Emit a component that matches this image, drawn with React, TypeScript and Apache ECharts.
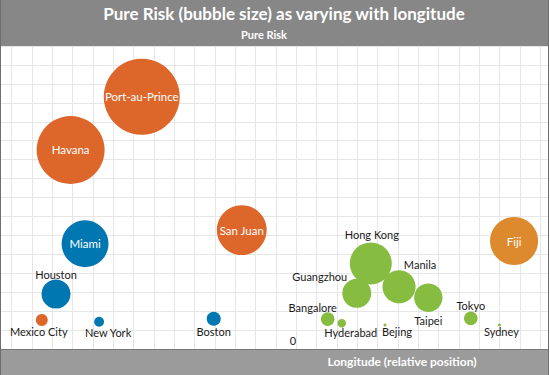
import React, { useEffect, useRef } from "react";
import * as echarts from "echarts";

// ---- data ----
const cities = [
  "Port-au-Prince", "Havana", "San Juan", "Mexico City",
  "Miami", "Houston", "New York", "Boston",
  "Hong Kong", "Guangzhou", "Manila", "Taipei", "Bangalore", "Hyderabad", "Bejing", "Tokyo", "Sydney",
  "Fiji",
];
const longitude = [6.4, 2.9, 11.32, 1.48, 3.61, 2.18, 4.3, 9.94, 17.67, 16.98, 19.06, 20.5, 15.55, 16.24, 18.37, 22.59, 24.0, 24.72];
const position = [13.32, 10.51, 6.28, 1.53, 5.56, 2.9, 1.44, 1.6, 4.52, 2.94, 3.29, 2.71, 1.58, 1.36, 1.27, 1.62, 1.27, 5.7];
const pureRisk = [100, 80, 43, 2.5, 38, 14.6, 1.7, 3.4, 30.5, 14.6, 18.9, 14, 3.2, 1.25, 0.16, 3.2, 0.16, 40];
const region = [
  "Caribbean", "Caribbean", "Caribbean", "Caribbean",
  "USA", "USA", "USA", "USA",
  "Asia", "Asia", "Asia", "Asia", "Asia", "Asia", "Asia", "Asia", "Asia",
  "Pacific",
];
const regions = ["Caribbean", "USA", "Asia", "Pacific"];

// ---- styling ----
const regionColor: Record<string, string> = {
  Caribbean: "#DD672B",
  USA: "#0077B1",
  Asia: "#86BC40",
  Pacific: "#DD8A2E",
};
const insideLabel = new Set(["Port-au-Prince", "Havana", "San Juan", "Miami", "Fiji"]);
const labelOffset: Record<string, [number, number]> = {
  Houston: [0, -20],
  "Mexico City": [-3, 11],
  "New York": [9, 11],
  Boston: [0, 13],
  "Hong Kong": [1, -29],
  Guangzhou: [-37, -17],
  Manila: [21, -22],
  Taipei: [0, 23],
  Bangalore: [-15, -12],
  Hyderabad: [9, 9],
  Bejing: [12, 7],
  Tokyo: [0, -13],
  Sydney: [2, 7],
};
const FONT = "Lato";
const MAX_SIZE = 76;

export default function App() {
  const ref = useRef<HTMLDivElement>(null);
  useEffect(() => {
    document.body.style.margin = "0";
    if (!ref.current) return;
    const chart = echarts.init(ref.current, undefined, { renderer: "svg" });
    const series = regions.map((r) => ({
      type: "scatter",
      name: r,
      xAxisIndex: 0,
      yAxisIndex: 0,
      symbolSize: (v: number[]) => MAX_SIZE * Math.sqrt(v[2] / 100),
      itemStyle: { color: regionColor[r], opacity: 1 },
      data: cities
        .map((c, i) => ({ c, i }))
        .filter(({ i }) => region[i] === r)
        .map(({ c, i }) => ({
          name: c,
          value: [longitude[i], position[i], pureRisk[i]],
          label: insideLabel.has(c)
            ? { show: true, position: "inside", formatter: "{b}", color: "#fff", fontSize: 11.5, fontFamily: FONT }
            : {
                show: true,
                position: "inside",
                offset: labelOffset[c] || [0, 0],
                formatter: "{b}",
                color: "#1a1a1a",
                fontSize: 11,
                fontFamily: FONT,
              },
        })),
    }));
    const hidden = { axisLine: { show: false }, axisTick: { show: false }, axisLabel: { show: false } };
    chart.setOption({
      animation: false,
      backgroundColor: "#fff",
      grid: [
        { left: 11.7, right: 2, top: 46, bottom: 26, containLabel: false },
        { left: 0, right: 2, top: 46, bottom: 26, containLabel: false },
      ],
      xAxis: [
        {
          type: "value", gridIndex: 0, min: 0, max: 26.39, interval: 1, ...hidden,
          splitLine: { show: true, showMaxLine: false, lineStyle: { color: "#E6E6E6", width: 1 } },
        },
        { type: "value", gridIndex: 1, min: 0, max: 1, ...hidden, splitLine: { show: false } },
      ],
      yAxis: [
        { type: "value", gridIndex: 0, min: 0, max: 16, interval: 1, ...hidden, splitLine: { show: false } },
        {
          type: "value", gridIndex: 1, min: 0, max: 16, interval: 1, ...hidden,
          splitLine: { show: true, lineStyle: { color: "#E6E6E6", width: 1 } },
        },
      ],
      series,
      graphic: [
        { type: "rect", z: 100, shape: { x: 0, y: 0, width: 549, height: 46 }, style: { fill: "#878787" } },
        { type: "rect", z: 100, shape: { x: 0, y: 349, width: 549, height: 26 }, style: { fill: "#9B9B9B" } },
        { type: "line", z: 101, shape: { x1: 0, y1: 349.5, x2: 549, y2: 349.5 }, style: { stroke: "#777", lineWidth: 1 } },
        { type: "line", z: 101, shape: { x1: 0.5, y1: 0, x2: 0.5, y2: 375 }, style: { stroke: "#6e6e6e", lineWidth: 1 } },
        { type: "line", z: 101, shape: { x1: 548.5, y1: 0, x2: 548.5, y2: 375 }, style: { stroke: "#6e6e6e", lineWidth: 1 } },
        {
          type: "text", z: 102, x: 284, y: 13,
          style: { text: "Pure Risk (bubble size) as varying with longitude", fill: "#fff", fontSize: 17, fontWeight: "bold", fontFamily: FONT, align: "center", verticalAlign: "middle" },
        },
        {
          type: "text", z: 102, x: 264, y: 34.5,
          style: { text: "Pure Risk", fill: "#fff", fontSize: 11, fontWeight: "bold", fontFamily: FONT, align: "center", verticalAlign: "middle" },
        },
        {
          type: "text", z: 102, x: 402, y: 361,
          style: { text: "Longitude (relative position)", fill: "#fff", fontSize: 12, fontWeight: "bold", fontFamily: FONT, align: "center", verticalAlign: "middle" },
        },
        {
          type: "text", z: 102, x: 293, y: 340,
          style: { text: "0", fill: "#1a1a1a", fontSize: 11, fontFamily: FONT, align: "center", verticalAlign: "middle" },
        },
      ],
    });
    return () => chart.dispose();
  }, []);
  return <div ref={ref} style={{ width: 550, height: 375 }} />;
}
